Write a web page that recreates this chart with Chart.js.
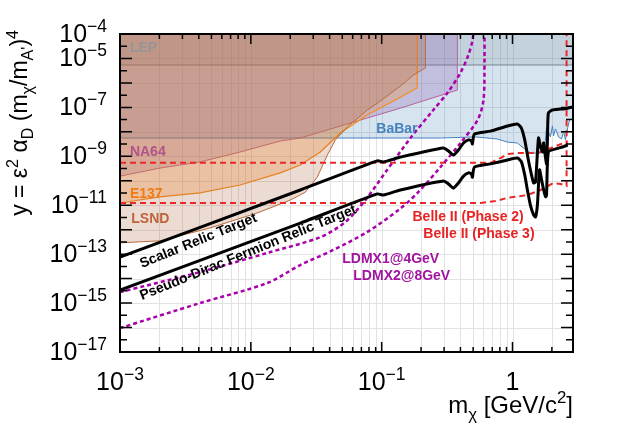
<!DOCTYPE html>
<html>
<head>
<meta charset="utf-8">
<script src="https://cdn.jsdelivr.net/npm/chart.js@4.4.1/dist/chart.umd.min.js"></script>
<style>
  html, body { margin: 0; padding: 0; background: #fff; }
  #wrap { width: 631px; height: 430px; }
</style>
</head>
<body>
<div id="wrap"><canvas id="chart" width="631" height="430"></canvas></div>
<script>
// axis ranges and labelled decades
const X_MIN = 1e-3, X_MAX = 2.9;
const Y_MIN = 1e-17, Y_MAX = 1e-4;
const yLabelExps = [-4, -5, -7, -9, -11, -13, -15, -17];
const xLabelExps = [-3, -2, -1, 0];

// relic targets (GeV, y)
const scalarMass = [0.001, 0.0239, 0.0927, 0.103, 0.139, 0.296, 0.324, 0.353, 0.386, 0.422, 0.460, 0.485, 0.494, 0.512, 0.679, 0.916, 1.09, 1.17, 1.24, 1.30, 1.37, 1.45, 1.50, 1.58, 1.64, 1.70, 1.73, 1.79, 1.82, 1.85, 1.88, 2.02, 2.33, 2.64, 2.9];
const scalarY = [7.6e-14, 4.2e-11, 6.5e-10, 5.9e-10, 9.3e-10, 2.2e-9, 1.65e-9, 1.13e-9, 1.8e-9, 3.5e-9, 4.7e-9, 4.2e-9, 3.2e-9, 8.2e-9, 1.07e-8, 1.73e-8, 2.1e-8, 1.43e-8, 4.7e-9, 1.13e-9, 2.8e-10, 8.1e-11, 8.9e-11, 5.6e-9, 2.4e-9, 1.5e-9, 3.5e-9, 8.5e-10, 4.9e-10, 4.7e-9, 5.9e-8, 7.8e-8, 8.5e-8, 9.3e-8, 1.04e-7];
const pseudoMass = [0.001, 0.0239, 0.0927, 0.103, 0.139, 0.296, 0.324, 0.353, 0.386, 0.422, 0.460, 0.485, 0.494, 0.512, 0.679, 0.916, 1.09, 1.17, 1.24, 1.30, 1.37, 1.45, 1.50, 1.55, 1.58, 1.61, 1.67, 1.73, 1.79, 1.82, 1.88, 2.13, 2.41, 2.64];
const pseudoY = [3.4e-15, 1.86e-12, 2.9e-11, 2.6e-11, 4.2e-11, 9.8e-11, 7.4e-11, 5.0e-11, 8.1e-11, 1.55e-10, 2.1e-10, 1.9e-10, 1.4e-10, 3.6e-10, 4.9e-10, 7.1e-10, 8.5e-10, 5.9e-10, 1.74e-10, 4.2e-11, 1.02e-11, 4.0e-12, 3.3e-12, 1.02e-11, 6.8e-11, 2.8e-10, 1.07e-10, 4.2e-11, 2.2e-11, 2.6e-11, 1.5e-9, 2.0e-9, 2.4e-9, 2.9e-9];

// LDMX projections
const ldmx1Mass = [0.001, 0.00409, 0.01334, 0.0340, 0.0527, 0.0750, 0.110, 0.166, 0.248, 0.318, 0.400, 0.460, 0.494, 0.502];
const ldmx1Y = [2.8e-15, 1.86e-14, 1.12e-13, 5.0e-13, 2.06e-12, 1.62e-11, 2.75e-10, 5.6e-9, 7.8e-8, 3.9e-7, 2.6e-6, 1.38e-5, 5.2e-5, 1e-4];
const ldmx2Mass = [0.001, 0.00409, 0.01334, 0.0239, 0.0427, 0.0776, 0.134, 0.187, 0.281, 0.400, 0.540, 0.600, 0.611, 0.611];
const ldmx2Y = [9.5e-17, 1.0e-15, 6.6e-15, 3.6e-14, 1.48e-13, 8.1e-13, 6.3e-12, 3.1e-11, 3.6e-10, 3.5e-9, 3.0e-8, 2.0e-7, 8.7e-6, 1e-4];

// Belle II projections
const belle2Mass = [0.001, 0.679, 0.809, 0.916, 1.09, 1.37, 1.64, 2.06, 2.46, 2.64];
const belle2Y = [5.4e-10, 5.4e-10, 8.5e-10, 1.23e-9, 1.35e-9, 1.35e-9, 1.5e-9, 2.4e-9, 3.5e-9, 3.8e-9];
const belle3Mass = [0.001, 0.569, 0.741, 0.916, 1.30, 1.64, 2.06, 2.33, 2.59, 2.59];
const belle3Y = [1.23e-11, 1.23e-11, 1.48e-11, 2.0e-11, 2.6e-11, 4.2e-11, 8.1e-11, 7.4e-11, 6.2e-11, 1e-4];

// existing limits
const lsndMass = [0.001, 0.00202, 0.00489, 0.01117, 0.0200, 0.0261, 0.0322, 0.0384, 0.0442, 0.0546, 0.0776, 0.0977, 0.139, 0.175, 0.216, 0.216];
const lsndY = [2.9e-13, 3.5e-13, 1.18e-12, 4.8e-12, 1.62e-11, 3.4e-11, 1.41e-10, 1.12e-9, 4.6e-9, 1.58e-8, 7.8e-8, 1.82e-7, 7.4e-7, 2.1e-6, 4.1e-6, 1e-4];
const e137Mass = [0.001, 0.00202, 0.00409, 0.00828, 0.01675, 0.0239, 0.0340, 0.0483, 0.0776, 0.127, 0.187, 0.187];
const e137Y = [1.23e-11, 2.2e-11, 3.2e-11, 6.7e-11, 2.1e-10, 4.4e-10, 1.5e-9, 9.0e-9, 4.9e-8, 2.0e-7, 6.2e-7, 1e-4];
const na64Mass = [0.001, 0.00202, 0.00409, 0.00828, 0.01675, 0.0239, 0.0340, 0.139, 0.379, 0.379];
const na64Y = [1.55e-10, 3.3e-10, 5.9e-10, 1.5e-9, 4.2e-9, 5.6e-9, 9.8e-9, 9.3e-8, 5.1e-7, 1e-4];
const babarMass = [0.001, 0.281, 0.521, 0.767, 0.916, 1.09, 1.21, 1.37, 1.64, 1.76, 1.82, 1.88, 1.95, 2.02, 2.06, 2.13, 2.25, 2.37, 2.46, 2.54, 2.64, 2.73, 2.9];
const babarY = [5.6e-9, 5.6e-9, 6.2e-9, 5.1e-9, 3.8e-9, 3.5e-9, 2.2e-9, 1.35e-9, 1.35e-9, 2.2e-9, 1.45e-8, 9.8e-9, 6.2e-9, 1.74e-8, 6.8e-9, 1.32e-8, 6.2e-9, 5.1e-9, 1.07e-8, 4.7e-9, 1.45e-8, 3.0e-8, 3.7e-8];
const lepMass = [0.001, 2.9];
const lepY = [5.4e-6, 5.4e-6];

const FONT = '"Liberation Sans", Arial, Helvetica, sans-serif';

const pts = (m, v) => m.map((x, i) => ({ x, y: v[i] }));

function line(label, m, v, color, width, extra) {
  return Object.assign({
    label, data: pts(m, v), borderColor: color, borderWidth: width,
    pointRadius: 0, fill: false, tension: 0, clip: 0
  }, extra || {});
}

// text run with superscripts / subscripts
function drawRich(ctx, segs, size, weight) {
  let w = 0;
  for (const s of segs) {
    const sz = s.m ? size * 0.7 : size;
    ctx.font = `${weight || ''} ${sz}px ${FONT}`;
    s.w = ctx.measureText(s.t).width;
    w += s.w;
  }
  return {
    width: w,
    draw(x, y) {
      let cx = x;
      for (const s of segs) {
        const sz = s.m ? size * 0.7 : size;
        ctx.font = `${weight || ''} ${sz}px ${FONT}`;
        const dy = s.m === 'sup' ? -size * 0.4 : s.m === 'sub' ? size * 0.28 : 0;
        ctx.fillText(s.t, cx, y + dy);
        cx += s.w;
      }
    }
  };
}

const labels = [
  { t: 'LEP', c: 'rgb(150,150,150)', x: 1.19e-3, y: 2.7e-5 },
  { t: 'NA64', c: 'rgb(175,85,135)', x: 1.19e-3, y: 1.5e-9 },
  { t: 'E137', c: 'rgb(240,125,20)', x: 1.19e-3, y: 2.9e-11 },
  { t: 'LSND', c: 'rgb(190,100,60)', x: 1.22e-3, y: 2.75e-12 },
  { t: 'BaBar', c: 'rgb(70,130,190)', x: 0.091, y: 1.32e-8 },
  { t: 'Belle II (Phase 2)', c: 'rgb(232,35,35)', x: 0.172, y: 3.3e-12 },
  { t: 'Belle II (Phase 3)', c: 'rgb(232,35,35)', x: 0.208, y: 6.6e-13 },
  { t: 'LDMX1@4GeV', c: 'rgb(160,20,160)', x: 0.050, y: 6.3e-14 },
  { t: 'LDMX2@8GeV', c: 'rgb(160,20,160)', x: 0.0607, y: 1.29e-14 }
];
const slantLabels = [
  { t: 'Scalar Relic Target', x: 1.47e-3, y: 2.7e-14, m: scalarMass, v: scalarY },
  { t: 'Pseudo-Dirac Fermion Relic Target', x: 1.47e-3, y: 1.33e-15, m: pseudoMass, v: pseudoY }
];

const overlay = {
  id: 'overlay',
  beforeDatasetsDraw(chart) {
    const { ctx, chartArea: a, scales: { x, y } } = chart;
    ctx.save();
    ctx.strokeStyle = 'rgb(226,226,226)';
    ctx.lineWidth = 1;
    ctx.beginPath();
    for (let e = -3; e <= 0; e++) {
      for (let k = 1; k <= 9; k++) {
        const v = k * Math.pow(10, e);
        if (v <= X_MIN || v >= X_MAX) continue;
        const px = Math.round(x.getPixelForValue(v)) + 0.5;
        ctx.moveTo(px, a.top); ctx.lineTo(px, a.bottom);
      }
    }
    for (let e = -16; e <= -5; e++) {
      const py = Math.round(y.getPixelForValue(Math.pow(10, e))) + 0.5;
      ctx.moveTo(a.left, py); ctx.lineTo(a.right, py);
    }
    ctx.stroke();
    ctx.restore();
  },
  afterDatasetsDraw(chart) {
    const { ctx, chartArea: a, scales: { x, y } } = chart;
    ctx.save();
    ctx.fillStyle = '#000';
    ctx.strokeStyle = '#000';

    // ticks
    ctx.lineWidth = 1.5;
    ctx.beginPath();
    for (let e = -3; e <= 0; e++) {
      for (let k = 1; k <= 9; k++) {
        const v = k * Math.pow(10, e);
        if (v < X_MIN || v > X_MAX) continue;
        const px = x.getPixelForValue(v);
        const len = k === 1 ? 10 : 5;
        ctx.moveTo(px, a.bottom); ctx.lineTo(px, a.bottom - len);
        ctx.moveTo(px, a.top); ctx.lineTo(px, a.top + len);
      }
    }
    for (let e = -17; e <= -4; e++) {
      const py = y.getPixelForValue(Math.pow(10, e));
      ctx.moveTo(a.left, py); ctx.lineTo(a.left + 12, py);
      ctx.moveTo(a.right, py); ctx.lineTo(a.right - 12, py);
      if (e < -4) {
        const pm = y.getPixelForValue(3.16 * Math.pow(10, e));
        ctx.moveTo(a.left, pm); ctx.lineTo(a.left + 7, pm);
        ctx.moveTo(a.right, pm); ctx.lineTo(a.right - 7, pm);
      }
    }
    ctx.stroke();

    // frame
    ctx.lineWidth = 2;
    ctx.strokeRect(a.left, a.top, a.right - a.left, a.bottom - a.top);

    // tick labels
    ctx.textAlign = 'left';
    ctx.textBaseline = 'alphabetic';
    for (const e of yLabelExps) {
      const py = y.getPixelForValue(Math.pow(10, e));
      const r = drawRich(ctx, [{ t: '10' }, { t: '\u2212' + Math.abs(e), m: 'sup' }], 25);
      r.draw(107 - r.width, py + 8);
    }
    for (const e of xLabelExps) {
      const px = x.getPixelForValue(Math.pow(10, e));
      const segs = e === 0 ? [{ t: '1' }] : [{ t: '10' }, { t: '\u2212' + Math.abs(e), m: 'sup' }];
      const r = drawRich(ctx, segs, 25);
      r.draw(px - r.width / 2, a.bottom + 38);
    }

    // axis titles
    const xt = drawRich(ctx, [{ t: 'm' }, { t: '\u03c7', m: 'sub' }, { t: ' [GeV/c' }, { t: '2', m: 'sup' }, { t: ']' }], 24);
    xt.draw(a.right - xt.width, 413);
    const yt = drawRich(ctx, [
      { t: 'y = \u03b5' }, { t: '2', m: 'sup' }, { t: ' \u03b1' }, { t: 'D', m: 'sub' },
      { t: ' (m' }, { t: '\u03c7', m: 'sub' }, { t: '/m' }, { t: "A'", m: 'sub' }, { t: ')' }, { t: '4', m: 'sup' }
    ], 23);
    ctx.save();
    ctx.translate(27, 30);
    ctx.rotate(-Math.PI / 2);
    yt.draw(-yt.width, 0);
    ctx.restore();

    // annotations
    ctx.font = `bold 14px ${FONT}`;
    ctx.textBaseline = 'middle';
    for (const l of labels) {
      ctx.fillStyle = l.c;
      ctx.fillText(l.t, x.getPixelForValue(l.x), y.getPixelForValue(l.y));
    }
    ctx.fillStyle = '#000';
    ctx.textBaseline = 'alphabetic';
    for (const l of slantLabels) {
      const x0 = x.getPixelForValue(l.m[0]), y0 = y.getPixelForValue(l.v[0]);
      const x1 = x.getPixelForValue(l.m[1]), y1 = y.getPixelForValue(l.v[1]);
      ctx.save();
      ctx.translate(x.getPixelForValue(l.x), y.getPixelForValue(l.y));
      ctx.rotate(Math.atan2(y1 - y0, x1 - x0) - 0.03);
      ctx.fillText(l.t, 0, 0);
      ctx.restore();
    }
    ctx.restore();
  }
};

const red = 'rgb(235,40,40)';
const violet = 'rgb(170,0,170)';

new Chart(document.getElementById('chart'), {
  type: 'line',
  data: {
    datasets: [
      line('Scalar Relic Target', scalarMass, scalarY, '#000', 3, { tension: 0.2 }),
      line('Pseudo-Dirac Fermion Relic Target', pseudoMass, pseudoY, '#000', 3, { tension: 0.2 }),
      line('LDMX1@4GeV', ldmx1Mass, ldmx1Y, violet, 2.5, { borderDash: [4, 3], tension: 0.3 }),
      line('LDMX2@8GeV', ldmx2Mass, ldmx2Y, violet, 2.5, { borderDash: [4, 3], tension: 0.3 }),
      line('Belle II (Phase 2)', belle2Mass, belle2Y, red, 2, { borderDash: [6, 4] }),
      line('Belle II (Phase 3)', belle3Mass, belle3Y, red, 2, { borderDash: [6, 4] }),
      line('LSND', lsndMass, lsndY, 'rgb(185,105,60)', 1, { fill: 'end', backgroundColor: 'rgba(170,90,50,0.22)' }),
      line('E137', e137Mass, e137Y, 'rgb(245,140,30)', 1.2, { fill: 'end', backgroundColor: 'rgba(245,140,40,0.28)' }),
      line('NA64', na64Mass, na64Y, 'rgb(180,100,155)', 1, { fill: 'end', backgroundColor: 'rgba(130,80,170,0.25)' }),
      line('BaBar', babarMass, babarY, 'rgb(70,130,190)', 1, { fill: 'end', backgroundColor: 'rgba(70,130,180,0.22)' }),
      line('LEP', lepMass, lepY, 'rgb(135,135,135)', 1, { fill: 'end', backgroundColor: 'rgba(120,120,120,0.18)' })
    ]
  },
  options: {
    responsive: false,
    animation: false,
    layout: { padding: { left: 120, right: 58, top: 34, bottom: 78 } },
    scales: {
      x: { type: 'logarithmic', min: X_MIN, max: X_MAX, display: false },
      y: { type: 'logarithmic', min: Y_MIN, max: Y_MAX, display: false }
    },
    plugins: {
      legend: { display: false },
      tooltip: { enabled: false }
    }
  },
  plugins: [overlay]
});
</script>
</body>
</html>
